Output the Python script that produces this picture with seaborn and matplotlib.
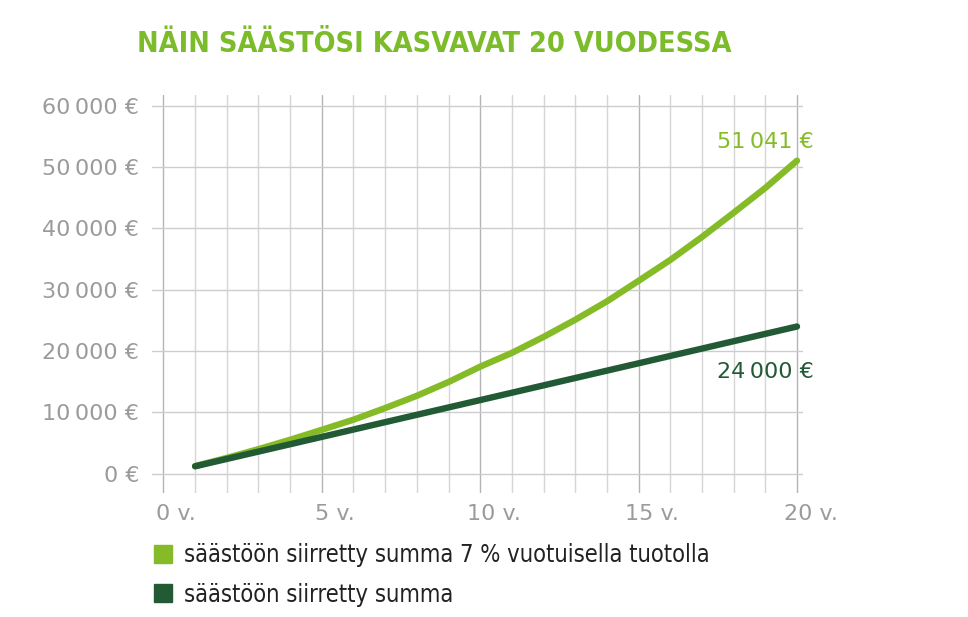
import matplotlib
matplotlib.use("Agg")
import numpy as np
import pandas as pd
import matplotlib.pyplot as plt
import seaborn as sns
from matplotlib.lines import Line2D
from matplotlib.transforms import ScaledTranslation

# ---- data ----
years = list(range(1, 21))
with_return = [1240, 2570, 4000, 5530, 7150, 8800, 10700, 12700, 14950, 17450,
               19700, 22300, 25100, 28100, 31450, 34850, 38600, 42550, 46600, 51041]
deposits = [1200, 2400, 3600, 4800, 6000, 7200, 8400, 9600, 10800, 12000,
            13200, 14400, 15600, 16800, 18000, 19200, 20400, 21600, 22800, 24000]
series_names = ["säästöön siirretty summa 7 % vuotuisella tuotolla",
                "säästöön siirretty summa"]
x_ticks = [0, 5, 10, 15, 20]
x_labels = ["0 v.", "5 v.", "10 v.", "15 v.", "20 v."]
y_ticks = [0, 10000, 20000, 30000, 40000, 50000, 60000]
title = "NÄIN SÄÄSTÖSI KASVAVAT 20 VUODESSA"

LIGHT = "#84bb26"
DARK = "#225a35"
TITLE_GREEN = "#7cbc2a"
GREY = "#9b9b9b"

df = pd.DataFrame({
    "vuosi": years * 2,
    "summa": with_return + deposits,
    "sarja": [series_names[0]] * len(years) + [series_names[1]] * len(years),
})

sns.set_theme(style="white")
plt.rcParams["font.family"] = ["DejaVu Sans"]

fig = plt.figure(figsize=(9.68, 6.17), dpi=100)
ax = fig.add_axes([0.1567, 0.201, 0.6732, 0.645])

sns.lineplot(data=df, x="vuosi", y="summa", hue="sarja", hue_order=series_names,
             palette=[LIGHT, DARK], linewidth=4.6, legend=False, ax=ax,
             solid_capstyle="round")

ax.set_xlim(-0.37, 20.2)
ax.set_ylim(-3150, 61750)
ax.set_xticks(x_ticks)
ax.set_xticks(range(0, 21), minor=True)
ax.set_yticks(y_ticks)
ax.set_xticklabels(x_labels)
ax.set_yticklabels([f"{v:,}".replace(",", "\u2009") + " €" for v in y_ticks])
ax.set_xlabel("")
ax.set_ylabel("")
for s in ax.spines.values():
    s.set_visible(False)

ax.grid(which="major", axis="x", color="#b4b4b4", lw=1)
ax.grid(which="minor", axis="x", color="#d6d6d6", lw=1)
ax.grid(which="major", axis="y", color="#cdcdcd", lw=1)
ax.set_axisbelow(True)
ax.tick_params(axis="both", which="both", length=0)
ax.tick_params(axis="y", pad=9, labelsize=16, labelcolor=GREY)
ax.tick_params(axis="x", pad=8, labelsize=16, labelcolor=GREY)

# numbers sit centred on the gridline, " v." hangs to the right
for lbl, v in zip(ax.get_xticklabels(), x_ticks):
    shift = -7 if v < 10 else -13.5
    lbl.set_horizontalalignment("left")
    lbl.set_transform(lbl.get_transform() + ScaledTranslation(shift / 100, 0, fig.dpi_scale_trans))

# end labels
ax.annotate(f"{with_return[-1]:,}".replace(",", "\u2009") + " €",
            xy=(years[-1], with_return[-1]), xytext=(12, 13.6), textcoords="offset points",
            ha="right", va="center", color=LIGHT, fontsize=16)
ax.annotate(f"{deposits[-1]:,}".replace(",", "\u2009") + " €",
            xy=(years[-1], deposits[-1]), xytext=(12, -33), textcoords="offset points",
            ha="right", va="center", color=DARK, fontsize=16)

fig.text(137 / 968, 1 - 44 / 617, title, ha="left", va="center", fontsize=20.6,
         fontweight="bold", fontstretch="condensed", color=TITLE_GREEN)

handles = [Line2D([], [], marker="s", ls="", ms=12.5, mfc=c, mec=c) for c in (LIGHT, DARK)]
fig.legend(handles=handles, labels=series_names, loc="upper left",
           bbox_to_anchor=(151 / 968, 1 - 543 / 617), frameon=False,
           prop={"size": 17, "stretch": "condensed"}, labelcolor="#222222",
           handletextpad=0.4, labelspacing=0.66, handlelength=1.0,
           borderaxespad=0, borderpad=0)

fig.savefig("out.png", dpi=100)
